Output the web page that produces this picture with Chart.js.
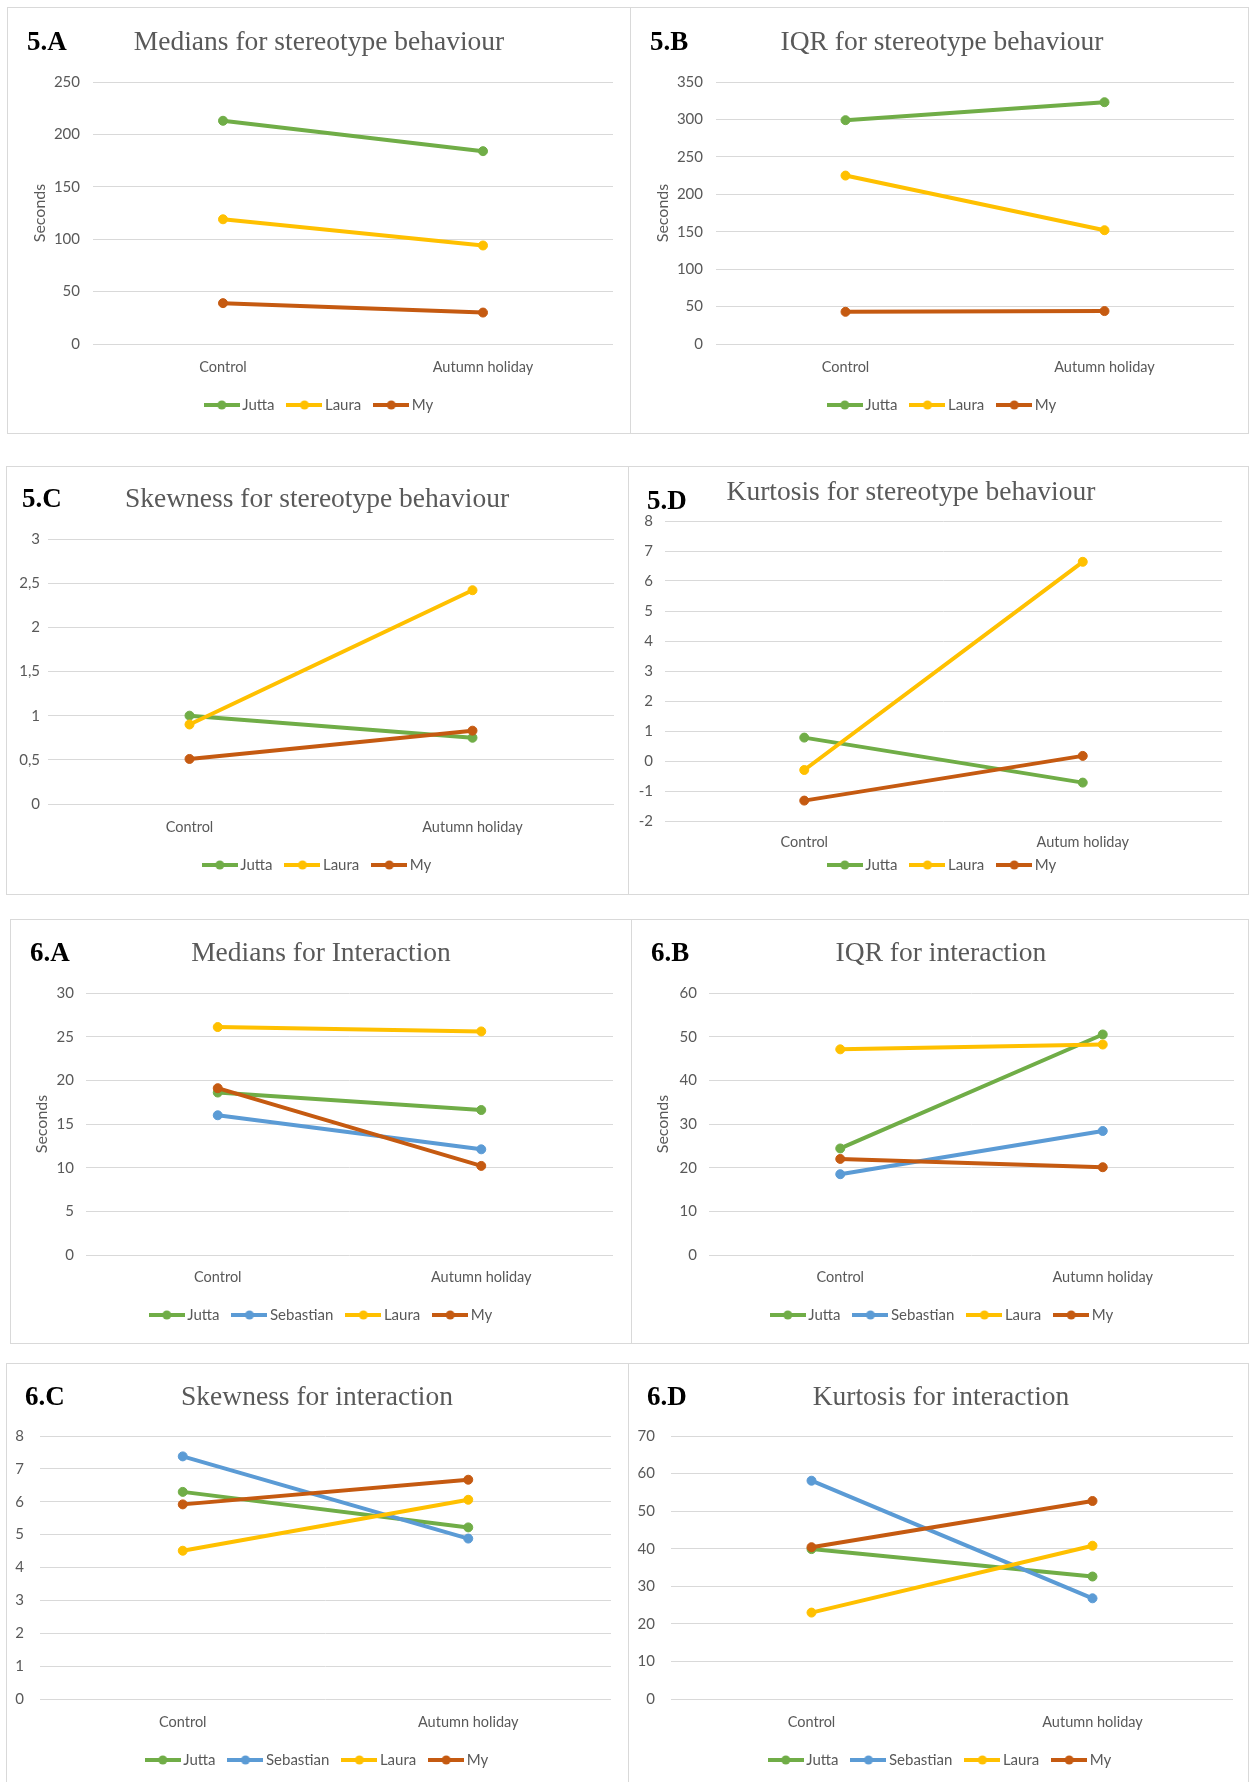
<!DOCTYPE html>
<html>
<head>
<meta charset="utf-8">
<script src="https://cdn.jsdelivr.net/npm/chart.js@4.4.1/dist/chart.umd.min.js"></script>
<style>
  body { margin: 0; background: #fff; width: 1249px; height: 1782px; overflow: hidden; position: relative; }
  .panel { position: absolute; border: 1px solid #d9d9d9; box-sizing: border-box; background: #fff; }
  .panel canvas { position: absolute; left: 0; top: 0; }
  .tag { position: absolute; font: bold 27px "Liberation Serif", "Times New Roman", serif; color: #000; line-height: 32px; white-space: nowrap; }
  .title { position: absolute; font: 27.5px "Liberation Serif", "Times New Roman", serif; color: #595959; line-height: 32px; text-align: center; width: 700px; white-space: nowrap; }
</style>
</head>
<body>
<script>
const categories = ["Control", "Autumn holiday"];
const categoriesKurtosis = ["Control", "Autum holiday"]; // spelled like this in 5.D

const stereoPeople = ["Jutta", "Laura", "My"];
const interactionPeople = ["Jutta", "Sebastian", "Laura", "My"];

// one [Control, Autumn holiday] pair per person
const stereoMedians  = [[213, 184], [119, 94], [39, 30]];
const stereoIqr      = [[299, 323], [225, 152], [43, 44]];
const stereoSkewness = [[1.0, 0.75], [0.9, 2.42], [0.51, 0.83]];
const stereoKurtosis = [[0.78, -0.72], [-0.3, 6.64], [-1.32, 0.17]];

const interMedians  = [[18.6, 16.6], [16.0, 12.1], [26.1, 25.6], [19.1, 10.2]];
const interIqr      = [[24.4, 50.5], [18.5, 28.4], [47.1, 48.2], [22.0, 20.1]];
const interSkewness = [[6.3, 5.22], [7.38, 4.88], [4.51, 6.06], [5.92, 6.67]];
const interKurtosis = [[39.9, 32.6], [58.1, 26.8], [23.0, 40.8], [40.4, 52.7]];

// y axis: [min, max, step]
const stereoMedianTicks   = [0, 250, 50];
const stereoIqrTicks      = [0, 350, 50];
const stereoSkewnessTicks = [0, 3, 0.5];
const stereoKurtosisTicks = [-2, 8, 1];
const interMedianTicks    = [0, 30, 5];
const interIqrTicks       = [0, 60, 10];
const interSkewnessTicks  = [0, 8, 1];
const interKurtosisTicks  = [0, 70, 10];

const personColors = { Jutta: "#70AD47", Sebastian: "#5B9BD5", Laura: "#FFC000", My: "#C55A11" };

Chart.defaults.font.family = "Lato";
Chart.defaults.color = "#595959";

// layout (page pixels): box = [x, y, w, h], grid = [left, top, right, bottom]
const panels = [
  { tag: "5.A", title: "Medians for stereotype behaviour", people: stereoPeople, values: stereoMedians, ticks: stereoMedianTicks, cats: categories,
    box: [7, 7, 624, 427], grid: [93, 82, 613, 344], tickPad: 13, xLabelY: 367, legendX: 321, legendY: 405, secondsX: 40, titleX: 319, titleY: 41, tagX: 27, tagY: 41 },
  { tag: "5.B", title: "IQR for stereotype behaviour", people: stereoPeople, values: stereoIqr, ticks: stereoIqrTicks, cats: categories,
    box: [630, 7, 619, 427], grid: [716, 82, 1234, 344], tickPad: 13, xLabelY: 367, legendX: 944, legendY: 405, secondsX: 663, titleX: 942, titleY: 41, tagX: 650, tagY: 41 },
  { tag: "5.C", title: "Skewness for stereotype behaviour", people: stereoPeople, values: stereoSkewness, ticks: stereoSkewnessTicks, cats: categories,
    box: [6, 466, 623, 429], grid: [48, 539, 614, 804], tickPad: 8, xLabelY: 827, legendX: 319, legendY: 865, secondsX: 0, titleX: 317, titleY: 498, tagX: 22, tagY: 498 },
  { tag: "5.D", title: "Kurtosis for stereotype behaviour", people: stereoPeople, values: stereoKurtosis, ticks: stereoKurtosisTicks, cats: categoriesKurtosis,
    box: [628, 466, 621, 429], grid: [665, 521, 1222, 821], tickPad: 12, xLabelY: 842, legendX: 944, legendY: 865, secondsX: 0, titleX: 911, titleY: 491, tagX: 647, tagY: 500 },
  { tag: "6.A", title: "Medians for Interaction", people: interactionPeople, values: interMedians, ticks: interMedianTicks, cats: categories,
    box: [10, 919, 622, 425], grid: [86, 993, 613, 1255], tickPad: 12, xLabelY: 1277, legendX: 323, legendY: 1315, secondsX: 42, titleX: 321, titleY: 952, tagX: 30, tagY: 952 },
  { tag: "6.B", title: "IQR for interaction", people: interactionPeople, values: interIqr, ticks: interIqrTicks, cats: categories,
    box: [631, 919, 618, 425], grid: [709, 993, 1234, 1255], tickPad: 12, xLabelY: 1277, legendX: 944, legendY: 1315, secondsX: 663, titleX: 941, titleY: 952, tagX: 651, tagY: 952 },
  { tag: "6.C", title: "Skewness for interaction", people: interactionPeople, values: interSkewness, ticks: interSkewnessTicks, cats: categories,
    box: [6, 1363, 623, 425], grid: [40, 1436, 611, 1699], tickPad: 16, xLabelY: 1722, legendX: 319, legendY: 1760, secondsX: 0, titleX: 317, titleY: 1396, tagX: 25, tagY: 1396 },
  { tag: "6.D", title: "Kurtosis for interaction", people: interactionPeople, values: interKurtosis, ticks: interKurtosisTicks, cats: categories,
    box: [628, 1363, 621, 425], grid: [671, 1436, 1233, 1699], tickPad: 16, xLabelY: 1722, legendX: 942, legendY: 1760, secondsX: 0, titleX: 941, titleY: 1396, tagX: 647, tagY: 1396 }
];

function legendMarker(color) {
  const c = document.createElement("canvas");
  c.width = 36; c.height = 12;
  const g = c.getContext("2d");
  g.strokeStyle = color;
  g.lineWidth = 4;
  g.beginPath(); g.moveTo(0, 6); g.lineTo(36, 6); g.stroke();
  g.fillStyle = color;
  g.beginPath(); g.arc(18, 6, 4.5, 0, Math.PI * 2); g.fill();
  return c;
}

function makePanel(p) {
  const [bx, by, bw, bh] = p.box;
  const ox = bx + 1, oy = by + 1, cw = bw - 2, ch = bh - 2;
  const [gl, gt, gr, gb] = p.grid;
  const rightGap = ox + cw - gr;
  const yWidth = gl - ox;
  const legPad = 17, legFont = 15, xFont = 14.5;
  const xAxisH = p.xLabelY - gb + 9;
  const legendH = legFont + legPad + 10;
  const padBottom = Math.max(0, ch - (gb - oy) - xAxisH - legendH);
  const xTickPad = p.xLabelY - gb - xFont * 1.2 / 2;

  const div = document.createElement("div");
  div.className = "panel";
  div.style.left = bx + "px";
  div.style.top = by + "px";
  div.style.width = bw + "px";
  div.style.height = bh + "px";
  const canvas = document.createElement("canvas");
  canvas.width = cw;
  canvas.height = ch;
  div.appendChild(canvas);
  document.body.appendChild(div);

  const markers = p.people.map(n => legendMarker(personColors[n]));
  const [ymin, ymax, ystep] = p.ticks;

  // move the legend row to where the original has it
  const legendPlace = {
    id: "legendPlace",
    afterLayout(chart) {
      const lg = chart.legend;
      if (!lg) return;
      const dx = (p.legendX - ox) - (lg.left + lg.right) / 2;
      const dy = (p.legendY - oy) - (lg.top + legPad + legFont / 2);
      lg.left += dx; lg.right += dx;
      lg.top += dy; lg.bottom += dy;
    }
  };

  new Chart(canvas, {
    type: "line",
    data: {
      labels: p.cats,
      datasets: p.people.map((name, i) => ({
        label: name,
        data: p.values[i],
        borderColor: personColors[name],
        backgroundColor: personColors[name],
        borderWidth: 4,
        borderCapStyle: "round",
        pointRadius: 4.5,
        pointBorderWidth: 1,
        pointBackgroundColor: personColors[name],
        pointBorderColor: personColors[name],
        tension: 0,
        order: p.people.length - i
      }))
    },
    plugins: [legendPlace],
    options: {
      responsive: false,
      animation: false,
      layout: { padding: { top: gt - oy, left: 0, right: 0, bottom: padBottom } },
      scales: {
        x: {
          offset: true,
          grid: { display: false, drawTicks: false },
          border: { display: false },
          ticks: { padding: xTickPad, font: { size: xFont }, color: "#595959", maxRotation: 0, autoSkip: false },
          afterFit: s => { s.height = xAxisH; }
        },
        y: {
          min: ymin, max: ymax,
          grid: { color: "#d9d9d9", lineWidth: 1, drawTicks: false },
          border: { display: false },
          ticks: {
            stepSize: ystep, padding: p.tickPad, font: { size: 15 }, color: "#595959",
            callback: v => String(v).replace(".", ",")
          },
          title: {
            display: p.secondsX > 0, text: "Seconds", color: "#595959", font: { size: 16 },
            padding: { top: p.secondsX - ox - 9.6, bottom: 0 }
          },
          afterFit: s => { s.width = yWidth; }
        },
        // empty right-hand strip so the plot ends where the original does
        edge: {
          type: "linear",
          position: "right",
          grid: { display: false, drawTicks: false },
          border: { display: false },
          ticks: { display: false },
          afterFit: s => { s.width = rightGap; }
        }
      },
      plugins: {
        title: { display: false },
        tooltip: { enabled: false },
        legend: {
          position: "bottom",
          labels: {
            usePointStyle: true,
            pointStyleWidth: 26,
            padding: legPad,
            font: { size: legFont },
            color: "#595959",
            generateLabels: chart => {
              const items = Chart.defaults.plugins.legend.labels.generateLabels(chart);
              items.forEach(it => { it.pointStyle = markers[it.datasetIndex]; });
              return items;
            },
            sort: (a, b) => a.datasetIndex - b.datasetIndex
          }
        }
      }
    }
  });

  const title = document.createElement("div");
  title.className = "title";
  title.textContent = p.title;
  title.style.left = (p.titleX - 350) + "px";
  title.style.top = (p.titleY - 16) + "px";
  document.body.appendChild(title);

  const tag = document.createElement("div");
  tag.className = "tag";
  tag.textContent = p.tag;
  tag.style.left = p.tagX + "px";
  tag.style.top = (p.tagY - 16) + "px";
  document.body.appendChild(tag);
}

panels.forEach(makePanel);
</script>
</body>
</html>
